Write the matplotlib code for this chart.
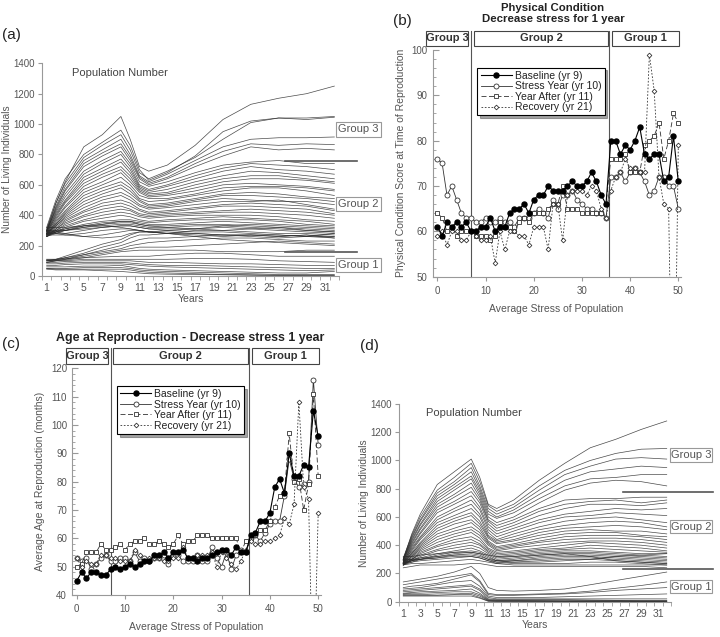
import matplotlib
matplotlib.use('Agg')
import matplotlib.pyplot as plt
from matplotlib.patches import Rectangle
from matplotlib.lines import Line2D
import numpy as np

plt.rcParams['font.family'] = ['Liberation Sans', 'DejaVu Sans']

# ---------------- DATA ----------------
years_sampled = [1, 2, 3, 5, 7, 9, 10, 11, 12, 14, 17, 20, 23, 26, 29, 32]
year_ticks = list(range(1, 33, 2))

pop_a_group3 = [
    [300, 480, 620, 850, 930, 1050, 900, 720, 690, 730, 860, 1030, 1130, 1170, 1200, 1250],
    [320, 500, 640, 800, 880, 960, 860, 700, 630, 680, 790, 950, 1020, 1040, 1040, 1050],
    [310, 480, 610, 780, 860, 930, 830, 680, 640, 690, 780, 900, 1010, 1040, 1030, 1045],
    [300, 460, 590, 760, 830, 900, 800, 660, 620, 670, 760, 850, 900, 910, 910, 915],
    [290, 450, 570, 740, 810, 870, 780, 650, 610, 650, 740, 820, 870, 860, 870, 865],
    [300, 440, 560, 720, 790, 850, 760, 640, 600, 640, 720, 790, 850, 830, 840, 830],
]
pop_a_group2 = [
    [300, 430, 540, 690, 760, 820, 740, 620, 590, 620, 680, 730, 750, 760, 740, 740],
    [290, 420, 520, 670, 740, 800, 720, 600, 570, 600, 660, 710, 740, 730, 720, 700],
    [290, 410, 500, 650, 710, 770, 700, 590, 560, 590, 640, 690, 720, 700, 690, 670],
    [280, 400, 490, 630, 690, 750, 680, 580, 550, 570, 620, 660, 690, 680, 660, 640],
    [290, 390, 480, 610, 670, 720, 660, 570, 540, 550, 600, 640, 660, 660, 640, 620],
    [280, 380, 460, 590, 650, 700, 640, 560, 530, 540, 580, 620, 640, 640, 630, 610],
    [280, 370, 450, 570, 620, 680, 620, 550, 520, 530, 560, 600, 610, 600, 590, 570],
    [270, 360, 430, 550, 600, 650, 600, 530, 510, 510, 540, 580, 590, 590, 580, 560],
    [280, 350, 420, 530, 580, 620, 580, 510, 490, 500, 530, 560, 580, 580, 560, 530],
    [270, 340, 410, 510, 560, 600, 560, 500, 470, 480, 510, 540, 550, 540, 520, 510],
    [280, 340, 400, 490, 540, 580, 540, 490, 460, 470, 500, 530, 530, 520, 510, 490],
    [270, 330, 390, 470, 520, 550, 520, 470, 450, 460, 490, 510, 500, 490, 490, 470],
    [280, 330, 380, 450, 500, 530, 500, 460, 440, 450, 470, 490, 490, 500, 470, 440],
    [270, 320, 370, 430, 480, 500, 480, 440, 420, 430, 450, 470, 480, 470, 460, 430],
    [260, 310, 360, 420, 460, 480, 460, 430, 410, 420, 440, 460, 460, 450, 440, 410],
    [270, 310, 350, 400, 440, 460, 440, 410, 400, 410, 420, 430, 440, 430, 420, 400],
    [260, 300, 340, 390, 420, 440, 430, 400, 390, 400, 410, 420, 420, 410, 400, 380],
    [270, 300, 330, 370, 400, 420, 410, 390, 380, 390, 400, 400, 400, 390, 370, 360],
    [260, 290, 320, 360, 380, 400, 390, 370, 360, 370, 380, 390, 380, 370, 360, 340],
    [270, 290, 310, 340, 360, 370, 370, 360, 350, 360, 370, 370, 370, 360, 340, 330],
    [260, 280, 300, 330, 350, 360, 360, 350, 340, 340, 350, 360, 350, 340, 330, 320],
    [280, 300, 310, 330, 340, 350, 350, 340, 330, 330, 340, 340, 330, 320, 310, 300],
    [270, 290, 300, 320, 330, 340, 340, 330, 320, 320, 330, 330, 320, 310, 300, 290],
    [260, 290, 300, 310, 320, 330, 330, 320, 310, 310, 310, 320, 310, 300, 290, 280],
    [300, 300, 300, 320, 340, 360, 360, 340, 330, 320, 310, 300, 290, 280, 280, 270],
    [280, 280, 280, 300, 320, 330, 330, 320, 310, 300, 290, 290, 280, 270, 260, 260],
    [270, 270, 270, 280, 300, 310, 310, 300, 290, 280, 280, 270, 270, 260, 270, 250],
    [290, 280, 270, 260, 270, 290, 300, 300, 290, 280, 270, 260, 270, 270, 260, 280],
    [300, 290, 280, 260, 250, 260, 280, 290, 290, 290, 280, 270, 260, 250, 260, 250],
    [320, 320, 320, 330, 330, 320, 310, 300, 290, 280, 260, 240, 230, 220, 210, 200],
    [100, 110, 130, 170, 210, 240, 270, 290, 290, 300, 310, 330, 340, 330, 320, 310],
    [100, 105, 120, 150, 190, 220, 250, 270, 270, 280, 300, 300, 310, 320, 300, 290],
    [90, 100, 110, 140, 170, 200, 220, 240, 250, 250, 260, 270, 270, 260, 270, 260],
    [110, 110, 120, 140, 160, 180, 200, 210, 220, 230, 240, 250, 250, 240, 230, 230],
    [100, 105, 110, 130, 150, 170, 180, 190, 190, 190, 200, 210, 220, 230, 220, 210],
    [90, 100, 105, 120, 140, 160, 165, 170, 170, 170, 170, 160, 160, 160, 170, 170],
]
pop_a_group1 = [
    [110, 110, 115, 120, 125, 130, 130, 130, 130, 140, 150, 150, 140, 130, 130, 130],
    [100, 100, 100, 110, 110, 110, 110, 110, 110, 110, 115, 115, 110, 100, 95, 90],
    [90, 90, 95, 100, 100, 100, 100, 95, 90, 90, 85, 80, 80, 75, 70, 70],
    [80, 80, 85, 90, 90, 90, 85, 80, 75, 70, 70, 65, 60, 55, 50, 50],
    [70, 70, 75, 80, 80, 80, 75, 70, 65, 60, 55, 50, 45, 40, 35, 40],
    [60, 60, 60, 65, 65, 70, 60, 50, 45, 40, 35, 30, 25, 20, 20, 30],
    [50, 50, 50, 55, 55, 55, 50, 40, 35, 30, 25, 20, 15, 10, 10, 10],
    [50, 45, 45, 45, 45, 45, 40, 30, 25, 20, 15, 10, 8, 5, 5, 5],
    [45, 40, 40, 40, 35, 30, 25, 20, 15, 12, 10, 8, 5, 3, 2, 2],
]

pop_d_group3 = [
    [300, 480, 620, 830, 920, 1010, 880, 690, 660, 720, 860, 980, 1090, 1150, 1220, 1280],
    [310, 470, 600, 790, 880, 980, 850, 680, 640, 690, 820, 930, 1000, 1050, 1080, 1085],
    [300, 460, 580, 770, 850, 950, 820, 660, 620, 670, 790, 900, 960, 1010, 1020, 1010],
    [300, 450, 570, 750, 830, 920, 800, 640, 600, 650, 760, 860, 920, 940, 960, 950],
    [290, 440, 550, 730, 810, 890, 780, 620, 590, 630, 730, 820, 870, 880, 900, 900],
    [300, 430, 540, 710, 790, 870, 760, 600, 560, 600, 700, 790, 840, 860, 850, 820],
]
pop_d_group2 = [
    [290, 420, 520, 690, 760, 840, 740, 580, 540, 580, 660, 720, 730, 730, 740, 740],
    [290, 410, 510, 670, 740, 810, 720, 570, 520, 560, 640, 690, 710, 720, 700, 720],
    [280, 400, 490, 650, 710, 780, 700, 550, 500, 540, 610, 660, 690, 690, 680, 700],
    [280, 390, 480, 630, 690, 750, 670, 530, 480, 520, 580, 620, 640, 660, 650, 660],
    [280, 380, 460, 600, 660, 720, 650, 510, 460, 500, 560, 600, 610, 630, 620, 610],
    [270, 370, 450, 580, 640, 690, 620, 490, 440, 480, 530, 570, 590, 600, 580, 560],
    [280, 360, 440, 560, 610, 660, 600, 470, 430, 460, 510, 540, 560, 570, 560, 530],
    [270, 350, 420, 540, 590, 630, 570, 460, 420, 440, 490, 520, 530, 540, 530, 510],
    [270, 340, 410, 520, 570, 610, 550, 450, 410, 430, 470, 500, 510, 500, 500, 480],
    [280, 340, 400, 500, 550, 580, 530, 430, 390, 410, 450, 480, 490, 490, 470, 460],
    [270, 330, 390, 480, 520, 560, 510, 420, 380, 400, 430, 460, 470, 470, 460, 440],
    [270, 320, 380, 460, 500, 530, 490, 410, 370, 390, 420, 440, 450, 450, 440, 420],
    [260, 320, 370, 440, 480, 510, 470, 400, 360, 380, 400, 420, 430, 430, 420, 400],
    [270, 310, 360, 420, 460, 490, 450, 380, 350, 360, 380, 400, 420, 410, 400, 380],
    [260, 300, 350, 400, 440, 460, 430, 370, 340, 350, 370, 380, 400, 390, 380, 360],
    [270, 300, 340, 390, 420, 440, 410, 360, 330, 340, 360, 370, 380, 370, 360, 350],
    [260, 300, 330, 370, 400, 420, 400, 350, 320, 330, 350, 360, 360, 350, 340, 340],
    [270, 290, 320, 360, 380, 400, 380, 340, 310, 320, 340, 350, 350, 340, 330, 320],
    [260, 290, 310, 340, 360, 380, 360, 330, 300, 310, 330, 340, 340, 330, 320, 310],
    [270, 290, 300, 330, 350, 360, 350, 320, 290, 300, 320, 330, 330, 320, 310, 300],
    [260, 280, 300, 320, 340, 350, 340, 310, 290, 290, 310, 320, 320, 310, 300, 290],
    [280, 290, 300, 310, 330, 340, 330, 300, 280, 290, 300, 310, 310, 300, 290, 280],
    [270, 280, 290, 300, 310, 320, 310, 290, 270, 280, 290, 300, 300, 290, 280, 270],
    [300, 300, 310, 320, 330, 330, 320, 300, 290, 280, 280, 290, 300, 320, 330, 340],
    [290, 300, 300, 310, 320, 320, 310, 290, 280, 270, 270, 270, 280, 280, 270, 260],
    [260, 270, 270, 280, 290, 300, 290, 280, 270, 260, 260, 260, 260, 260, 260, 260],
    [320, 320, 330, 340, 350, 350, 340, 330, 320, 320, 330, 340, 320, 290, 280, 270],
    [240, 250, 260, 260, 260, 270, 270, 260, 250, 250, 250, 250, 250, 250, 250, 240],
]
pop_d_group1 = [
    [140, 150, 160, 180, 210, 250, 200, 100, 80, 75, 80, 90, 120, 150, 180, 210],
    [120, 130, 140, 160, 180, 200, 150, 60, 50, 50, 55, 60, 75, 95, 115, 140],
    [100, 110, 115, 130, 160, 190, 140, 50, 45, 45, 50, 55, 65, 80, 90, 100],
    [90, 95, 100, 120, 140, 150, 110, 40, 30, 30, 30, 35, 40, 45, 50, 55],
    [80, 85, 90, 100, 110, 120, 90, 30, 20, 20, 20, 20, 20, 20, 20, 20],
    [70, 75, 80, 90, 100, 110, 80, 20, 15, 15, 15, 15, 12, 10, 10, 10],
    [60, 65, 70, 75, 80, 90, 60, 15, 10, 10, 10, 10, 8, 8, 5, 5],
    [55, 60, 60, 65, 70, 70, 50, 10, 8, 8, 6, 5, 5, 5, 5, 5],
    [50, 50, 50, 55, 55, 60, 40, 8, 5, 5, 5, 3, 3, 3, 3, 3],
    [45, 45, 45, 45, 50, 50, 30, 5, 3, 3, 2, 2, 2, 2, 2, 2],
    [40, 40, 40, 40, 40, 40, 25, 3, 2, 2, 1, 1, 1, 1, 1, 1],
]

stress_levels = list(range(51))

cond_baseline = [61, 59, 62, 61, 62, 61, 62, 60, 60, 61, 61, 63, 60, 61, 61, 64, 65, 65, 66, 64,
                 67, 68, 68, 70, 69, 69, 69, 70, 71, 70, 70, 71, 73, 71, 68, 66, 80, 80, 77, 79,
                 78, 80, 83, 77, 76, 77, 77, 71, 72, 81, 71]
cond_stress = [76, 75, 68, 70, 67, 64, 63, 63, 62, 62, 63, 62, 62, 63, 62, 62, 61, 63, 63, 63,
               64, 65, 64, 63, 67, 65, 68, 68, 69, 67, 66, 65, 65, 64, 64, 63, 72, 72, 73, 71,
               73, 74, 73, 71, 68, 69, 72, 72, 70, 70, 65]
cond_after = [64, 63, 60, 61, 59, 60, 60, 60, 59, 59, 59, 58, 59, 62, 61, 61, 60, 62, 63, 62,
              64, 64, 64, 65, 66, 66, 70, 65, 65, 65, 64, 64, 64, 64, 64, 66, 76, 76, 76, 77,
              73, 73, 73, 79, 80, 81, 84, 76, 80, 86, 84]
cond_recovery = [59, 60, 57, 60, 60, 58, 58, 60, 59, 58, 58, 59, 53, 60, 56, 60, 60, 59, 59, 57,
                 61, 61, 61, 56, 66, 66, 58, 68, 69, 69, 69, 68, 70, 69, 65, 63, 69, 72, 73, 76,
                 74, 74, 73, 73, 99, 91, 72, 66, 65, 0, 79]

age_baseline = [45, 48, 46, 48, 48, 47, 47, 49, 50, 49, 50, 51, 50, 51, 52, 52, 54, 54, 55, 53,
                55, 55, 56, 53, 53, 52, 53, 53, 54, 55, 56, 56, 54, 57, 55, 55, 61, 62, 66, 66,
                69, 78, 81, 76, 90, 82, 82, 86, 85, 105, 96]
age_stress = [53, 52, 53, 49, 51, 53, 54, 52, 52, 53, 53, 52, 55, 52, 53, 52, 53, 53, 54, 51,
              54, 54, 52, 52, 52, 54, 52, 52, 57, 53, 50, 55, 49, 54, 56, 55, 60, 61, 59, 62,
              65, 66, 66, 75, 88, 81, 78, 79, 80, 116, 93]
age_after = [50, 51, 55, 55, 55, 58, 56, 56, 57, 58, 56, 58, 59, 59, 60, 58, 58, 59, 58, 57,
             58, 61, 58, 59, 59, 61, 61, 61, 60, 60, 60, 60, 60, 60, 55, 59, 60, 61, 63, 63,
             66, 71, 75, 76, 97, 80, 81, 70, 79, 111, 82]
age_recovery = [53, 50, 52, 51, 51, 54, 54, 53, 53, 52, 52, 52, 56, 54, 52, 53, 53, 53, 52, 52,
                53, 53, 57, 53, 53, 54, 54, 54, 55, 50, 55, 53, 51, 49, 52, 56, 59, 58, 58, 59,
                59, 60, 61, 67, 65, 72, 108, 78, 74, 0, 69]

series_labels = ['Baseline (yr 9)', 'Stress Year (yr 10)', 'Year After (yr 11)', 'Recovery (yr 21)']
group_names = ['Group 3', 'Group 2', 'Group 1']
group_split = [7, 35.7]

# ---------------- FIGURE ----------------
W, H = 720, 637
fig = plt.figure(figsize=(7.2, 6.37), dpi=100)

def fx(px):
    return px / W

def fy(py):
    return 1 - py / H

def px_axes(l, r, t, b):
    return fig.add_axes([fx(l), fy(b), (r - l) / W, (b - t) / H])

GRAY_TXT = '#555555'
SPINE = '#999999'


def fig_box(l, r, t, b, text, bold=False, fs=8, ec='#999999', color=GRAY_TXT):
    fig.add_artist(Rectangle((fx(l), fy(b)), (r - l) / W, (b - t) / H,
                             transform=fig.transFigure, fill=True, fc='white',
                             ec=ec, lw=0.8, zorder=5))
    fig.text(fx((l + r) / 2), fy((t + b) / 2), text, ha='center', va='center',
             fontsize=fs, fontweight='bold' if bold else 'normal', color=color, zorder=6)


def fig_hline(l, r, y, color='#555555', lw=1.2):
    fig.add_artist(Line2D([fx(l), fx(r)], [fy(y), fy(y)], transform=fig.transFigure,
                          color=color, lw=lw, zorder=4))


def pop_panel(ax, groups, ylabel_x):
    for grp in groups:
        for ser in grp:
            ax.plot(years_sampled, ser, color='#2a2a2a', lw=0.5, alpha=0.85)
    ax.set_xlim(0.5, 32.5)
    ax.set_ylim(0, 1400)
    ax.set_yticks(range(0, 1401, 200))
    ax.set_xticks(year_ticks)
    ax.set_xticks(np.arange(0.5, 33, 1.0), minor=True)
    ax.tick_params(axis='x', which='major', length=0, labelsize=7.5, colors=GRAY_TXT, pad=5)
    ax.tick_params(axis='x', which='minor', length=3, direction='out', color=SPINE)
    ax.tick_params(axis='y', which='major', length=3, direction='out', labelsize=7,
                   colors=GRAY_TXT, color=SPINE, pad=2)
    for sp in ['top', 'right']:
        ax.spines[sp].set_visible(False)
    for sp in ['left', 'bottom']:
        ax.spines[sp].set_color(SPINE)
        ax.spines[sp].set_linewidth(0.8)
    ax.set_ylabel('Number of Living Individuals', fontsize=7.3, color=GRAY_TXT)
    ax.yaxis.set_label_coords(ylabel_x, 0.5)
    ax.set_xlabel('Years', fontsize=7.5, color=GRAY_TXT, labelpad=1)
    ax.text(0.1, 0.955, 'Population Number', transform=ax.transAxes, fontsize=8,
            color='#444444', va='center')


def stress_panel(ax, base, stress, after, recov, ylim, ystep, yminor, ylabel, ytop_px,
                 ax_top_px, ax_h, ylabel_x):
    ax.plot(stress_levels, stress, '-', color='#333333', lw=0.6, marker='o', ms=3.6,
            mfc='white', mec='#333333', mew=0.6, label=series_labels[1], zorder=3)
    ax.plot(stress_levels, after, color='#333333', lw=0.6, dashes=(6, 3), marker='s', ms=2.4,
            mfc='white', mec='#333333', mew=0.6, label=series_labels[2], zorder=3)
    ax.plot(stress_levels, recov, color='#333333', lw=0.6, dashes=(2, 2), marker='D', ms=2.4,
            mfc='white', mec='#333333', mew=0.6, label=series_labels[3], zorder=3)
    ax.plot(stress_levels, base, '-', color='black', lw=0.8, marker='o', ms=3.6,
            mfc='black', mec='black', label=series_labels[0], zorder=4)
    ax.set_xlim(-1, 50.5)
    ax.set_ylim(*ylim)
    ax.set_xticks(range(0, 51, 10))
    ax.set_yticks(np.arange(ylim[0], ylim[1] + 0.1, ystep))
    ax.set_yticks(np.arange(ylim[0], ylim[1] + 0.1, yminor), minor=True)
    ax.tick_params(axis='both', which='major', length=4, direction='in', labelsize=7,
                   colors=GRAY_TXT, color=SPINE)
    ax.tick_params(axis='y', which='minor', length=2, direction='in', color=SPINE)
    ax.tick_params(axis='x', which='major', direction='out', length=3)
    for sp in ['top', 'right']:
        ax.spines[sp].set_visible(False)
    for sp in ['left', 'bottom']:
        ax.spines[sp].set_color(SPINE)
        ax.spines[sp].set_linewidth(0.8)
    ax.set_xlabel('Average Stress of Population', fontsize=7.5, color=GRAY_TXT, labelpad=6)
    ax.set_ylabel(ylabel, fontsize=7.5, color=GRAY_TXT)
    ax.yaxis.set_label_coords(ylabel_x, 0.5)
    ymax_frac = 1 + (ax_top_px - ytop_px) / ax_h
    for xv in group_split:
        ax.axvline(xv, ymin=0, ymax=ymax_frac, clip_on=False, color='#555555', lw=0.8, zorder=2)
    h, l = ax.get_legend_handles_labels()
    order = [3, 0, 1, 2]
    leg = ax.legend([h[i] for i in order], [l[i] for i in order], loc='upper left',
                    bbox_to_anchor=(0.16, 0.945), fontsize=7.5, frameon=True, shadow=True,
                    fancybox=False, edgecolor='black', borderpad=0.3, labelspacing=0.05,
                    handlelength=3.0, handletextpad=0.3, numpoints=1)
    leg.get_frame().set_linewidth(0.8)
    for t in leg.get_texts():
        t.set_color('#222222')


# ---- Panel (a)
ax_a = px_axes(42, 339, 63.3, 276)
pop_panel(ax_a, [pop_a_group3, pop_a_group2, pop_a_group1], -0.1)
fig.text(fx(2), fy(35), '(a)', fontsize=11, va='center', ha='left', color='#222222')
fig_hline(285, 357, 160.7)
fig_hline(285, 357, 252.3)
fig_box(336, 381, 122, 137, group_names[0])
fig_box(336, 381, 197, 211, group_names[1])
fig_box(336, 381, 258, 272, group_names[2])

# ---- Panel (b)
ax_b = px_axes(432.5, 680.7, 50, 276.7)
stress_panel(ax_b, cond_baseline, cond_stress, cond_after, cond_recovery, (50, 100), 10, 2,
             'Physical Condition Score at Time of Reproduction', 30.7, 50, 226.7, -0.107)
fig.text(fx(393), fy(21), '(b)', fontsize=11, va='center', ha='left', color='#222222')
fig.text(fx(553), fy(8), 'Physical Condition', fontsize=8.2, fontweight='bold',
         ha='center', va='center', color='#222222')
fig.text(fx(553), fy(19), 'Decrease stress for 1 year', fontsize=8.2, fontweight='bold',
         ha='center', va='center', color='#222222')
fig_box(425.7, 468.3, 30.7, 45.7, group_names[0], bold=True, ec='#444444', color='#333333')
fig_box(474.3, 607.7, 30.7, 45.7, group_names[1], bold=True, ec='#444444', color='#333333')
fig_box(612.3, 679.3, 30.7, 45.7, group_names[2], bold=True, ec='#444444', color='#333333')

# ---- Panel (c)
ax_c = px_axes(71.9, 320.6, 368.3, 595)
stress_panel(ax_c, age_baseline, age_stress, age_after, age_recovery, (40, 120), 10, 2,
             'Average Age at Reproduction (months)', 348, 368.3, 226.7, -0.108)
fig.text(fx(2), fy(344), '(c)', fontsize=11, va='center', ha='left', color='#222222')
fig.text(fx(190), fy(338), 'Age at Reproduction - Decrease stress 1 year', fontsize=8.9,
         fontweight='bold', ha='center', va='center', color='#222222')
fig_box(65.7, 108.3, 348, 364, group_names[0], bold=True, ec='#444444', color='#333333')
fig_box(113, 248, 348, 364, group_names[1], bold=True, ec='#444444', color='#333333')
fig_box(252, 319, 348, 364, group_names[2], bold=True, ec='#444444', color='#333333')

# ---- Panel (d)
ax_d = px_axes(399, 671, 404, 601.7)
pop_panel(ax_d, [pop_d_group3, pop_d_group2, pop_d_group1], -0.11)
fig.text(fx(360), fy(346), '(d)', fontsize=11, va='center', ha='left', color='#222222')
fig_hline(623, 713, 491.7)
fig_hline(623, 713, 568.7)
fig_box(670, 712, 448, 462, group_names[0])
fig_box(670, 712, 520, 533, group_names[1])
fig_box(670, 712, 580, 593, group_names[2])

fig.savefig('out.png', dpi=100)
